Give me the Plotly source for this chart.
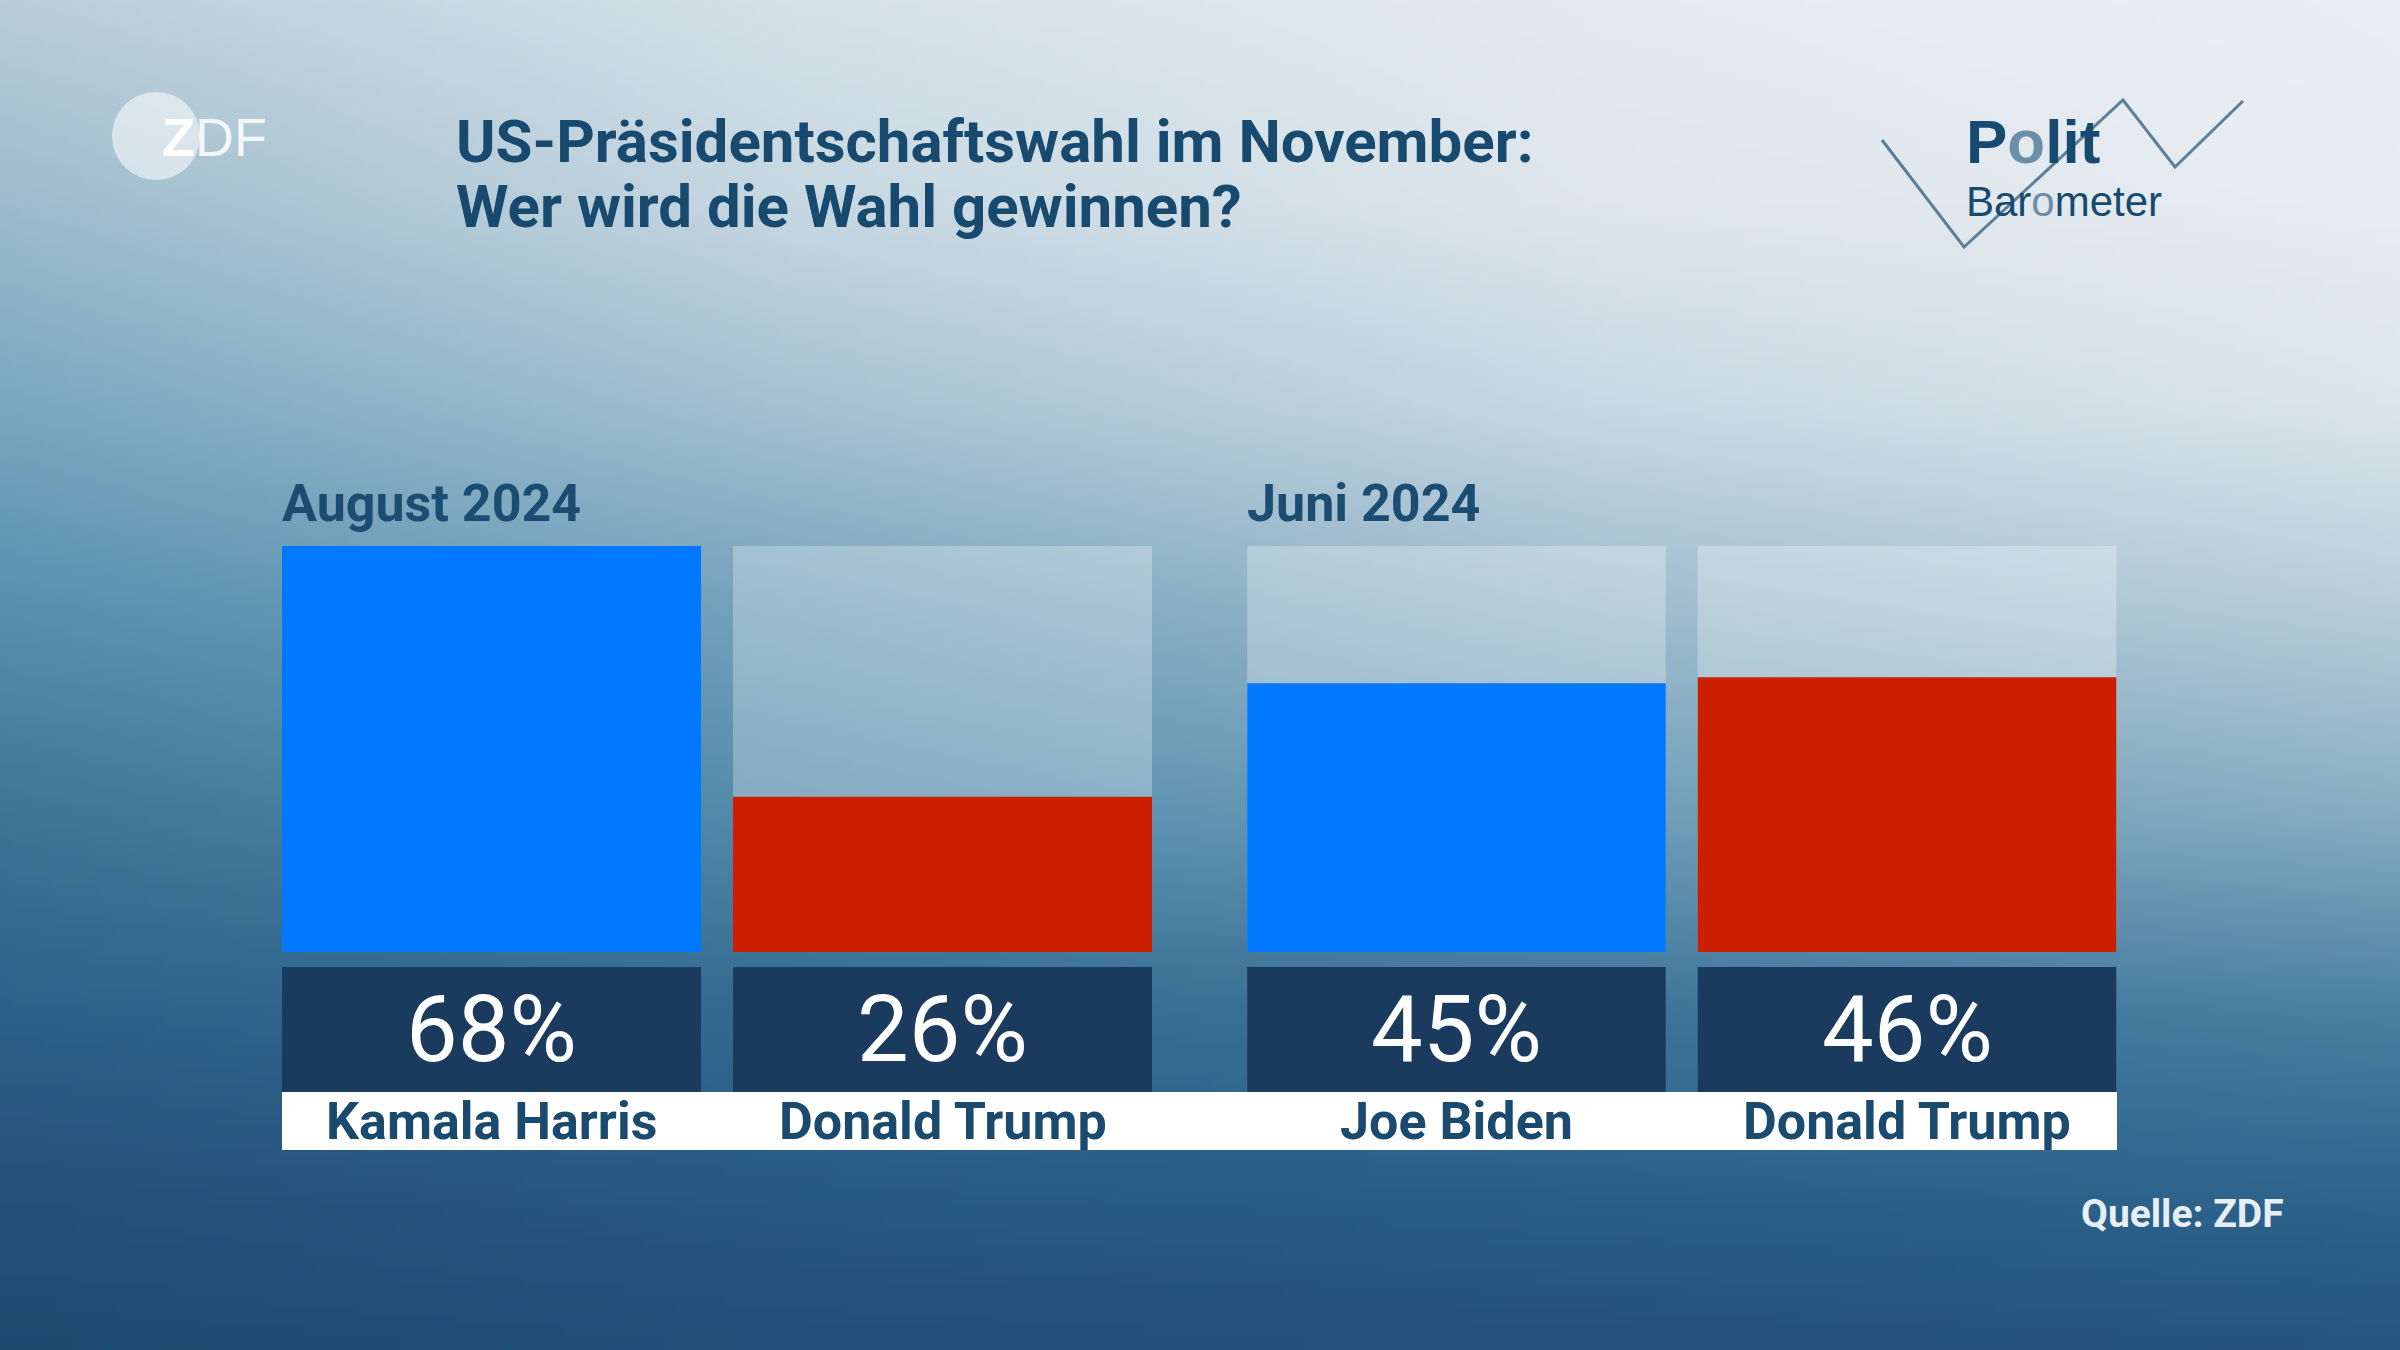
import base64
import struct
import zlib

import numpy as np
import plotly.graph_objects as go

# ---------------- data ----------------
group_titles = ["August 2024", "Juni 2024"]
aug_candidates = ["Kamala Harris", "Donald Trump"]
aug_values = [68, 26]
jun_candidates = ["Joe Biden", "Donald Trump"]
jun_values = [45, 46]
party_colors_aug = ["#0078ff", "#cc1e00"]
party_colors_jun = ["#0078ff", "#cc1e00"]
title_lines = ["US-Präsidentschaftswahl im November:", "Wer wird die Wahl gewinnen?"]
source_text = "Quelle: ZDF"

W, H = 2400, 1350
scale_max = max(aug_values + jun_values)


def px(x):
    return x / W


def py(y):
    return 1 - y / H


# ---------------- background gradient (style) ----------------
grid_u = [0.0, 0.33, 0.67, 1.0]
grid_v = [0.0, 0.15, 0.30, 0.45, 0.60, 0.75, 0.90, 1.0]
grid_hex = [
    ["#b9cdd9", "#d5e1e8", "#e3eaef", "#e9eef2"],
    ["#9cbbcc", "#c6d7e1", "#dee6ec", "#e6ecf0"],
    ["#79a7c0", "#a5c1d1", "#c8d8e2", "#dbe5eb"],
    ["#5690af", "#76a3bc", "#9ebccd", "#b8cdd9"],
    ["#3f7599", "#558cac", "#6f9fb9", "#88aec3"],
    ["#2d6189", "#346a90", "#3e7499", "#4a80a3"],
    ["#235079", "#265883", "#295d87", "#2c628b"],
    ["#1e4a72", "#214e78", "#23527c", "#255680"],
]


def hex2rgb(h):
    h = h.lstrip("#")
    return [int(h[i:i + 2], 16) for i in (0, 2, 4)]


anch = np.array([[hex2rgb(c) for c in row] for row in grid_hex], dtype=float)
iw, ih = 240, 135
us = np.linspace(0, 1, iw)
vs = np.linspace(0, 1, ih)
rows = np.zeros((len(grid_v), iw, 3))
for i in range(len(grid_v)):
    for c in range(3):
        rows[i, :, c] = np.interp(us, grid_u, anch[i, :, c])
img = np.zeros((ih, iw, 3))
for j in range(iw):
    for c in range(3):
        img[:, j, c] = np.interp(vs, grid_v, rows[:, j, c])
img = np.clip(np.round(img), 0, 255).astype(np.uint8)


def to_png(arr):
    h, w, _ = arr.shape
    raw = b"".join(b"\x00" + arr[y].tobytes() for y in range(h))

    def chunk(t, d):
        return struct.pack(">I", len(d)) + t + d + struct.pack(">I", zlib.crc32(t + d) & 0xFFFFFFFF)

    return (b"\x89PNG\r\n\x1a\n" + chunk(b"IHDR", struct.pack(">IIBBBBB", w, h, 8, 2, 0, 0, 0))
            + chunk(b"IDAT", zlib.compress(raw, 9)) + chunk(b"IEND", b""))


bg_uri = "data:image/png;base64," + base64.b64encode(to_png(img)).decode()

# ---------------- figure ----------------
fig = go.Figure()

groups = [
    ("x", "y", "y3", aug_candidates, aug_values, party_colors_aug),
    ("x2", "y2", "y4", jun_candidates, jun_values, party_colors_jun),
]

for xa, ya, yb, cands, vals, cols in groups:
    # light "full scale" bars
    fig.add_trace(go.Bar(x=cands, y=[scale_max] * len(cands), xaxis=xa, yaxis=ya,
                         marker=dict(color="rgba(255,255,255,0.28)", line=dict(width=0)),
                         hoverinfo="skip", showlegend=False))
    # value bars
    fig.add_trace(go.Bar(x=cands, y=vals, xaxis=xa, yaxis=ya,
                         marker=dict(color=cols, line=dict(width=0)),
                         showlegend=False))
    # dark value boxes
    fig.add_trace(go.Bar(x=cands, y=[1] * len(cands), xaxis=xa, yaxis=yb,
                         marker=dict(color="#1b3b5e", line=dict(width=0)),
                         hoverinfo="skip", showlegend=False))

ax_common = dict(visible=False, fixedrange=True)
# bar geometry: centers 491.5 / 942.5 and 1456.5 / 1907, slot 451 px
fig.update_layout(
    width=W, height=H,
    margin=dict(l=0, r=0, t=0, b=0),
    paper_bgcolor="#3f7599", plot_bgcolor="rgba(0,0,0,0)",
    barmode="overlay", bargap=32 / 451,
    xaxis=dict(domain=[px(266), px(1168)], anchor="y", **ax_common),
    xaxis2=dict(domain=[px(1231.25), px(2132.25)], anchor="y2", **ax_common),
    yaxis=dict(domain=[py(952), py(546)], range=[0, scale_max], anchor="x", **ax_common),
    yaxis2=dict(domain=[py(952), py(546)], range=[0, scale_max], anchor="x2", **ax_common),
    yaxis3=dict(domain=[py(1092), py(967)], range=[0, 1], anchor="x", **ax_common),
    yaxis4=dict(domain=[py(1092), py(967)], range=[0, 1], anchor="x2", **ax_common),
    images=[dict(source=bg_uri, xref="paper", yref="paper", x=0, y=1, sizex=1, sizey=1,
                 sizing="stretch", layer="below", xanchor="left", yanchor="top")],
    showlegend=False,
)

shapes = []
# white name band
shapes.append(dict(type="rect", xref="paper", yref="paper", x0=px(282), x1=px(2117),
                   y0=py(1150), y1=py(1092), fillcolor="white", line=dict(width=0), layer="above"))
# ZDF logo circle
shapes.append(dict(type="circle", xref="paper", yref="paper", x0=px(112), x1=px(200),
                   y0=py(180), y1=py(92), fillcolor="rgba(255,255,255,0.55)", line=dict(width=0),
                   layer="above"))
# Politbarometer zig-zag
zz = [(1882, 140), (1964, 247), (2123, 100), (2175, 167), (2243, 101)]
path = "M " + " L ".join(f"{px(x):.5f},{py(y):.5f}" for x, y in zz)
shapes.append(dict(type="path", xref="paper", yref="paper", path=path,
                   line=dict(color="#5d7f98", width=3), layer="above"))
fig.update_layout(shapes=shapes)

ann = []
# title
ann.append(dict(text=title_lines[0], xref="paper", yref="paper", x=px(454), y=py(141),
                xanchor="left", yanchor="middle", showarrow=False,
                font=dict(family="Roboto", size=60, color="#174a6e", weight="bold")))
ann.append(dict(text=title_lines[1], xref="paper", yref="paper", x=px(454), y=py(206),
                xanchor="left", yanchor="middle", showarrow=False,
                font=dict(family="Roboto", size=60, color="#174a6e", weight="bold")))
# group headers
for xpos, t in zip([282, 1247], group_titles):
    ann.append(dict(text=t, xref="paper", yref="paper", x=px(xpos - 2), y=py(503),
                    xanchor="left", yanchor="middle", showarrow=False,
                    font=dict(family="Roboto", size=52, color="#1b4d72", weight="bold")))
# value and name labels
for xa, ya, yb, cands, vals, cols in groups:
    for c, v in zip(cands, vals):
        ann.append(dict(text=f"{v}%", xref=xa, yref=yb, x=c, y=0.5,
                        xanchor="center", yanchor="middle", showarrow=False,
                        font=dict(family="Roboto", size=92, color="white")))
        ann.append(dict(text=c, xref=xa, yref="paper", x=c, y=py(1121),
                        xanchor="center", yanchor="middle", showarrow=False,
                        font=dict(family="Roboto", size=52, color="#1a4a6e", weight="bold")))
# source
ann.append(dict(text=source_text, xref="paper", yref="paper", x=px(2286), y=py(1214),
                xanchor="right", yanchor="middle", showarrow=False,
                font=dict(family="Roboto", size=39, color="#e8eff4", weight="bold")))
# ZDF logo text
ann.append(dict(text="<b>Z</b><span style='color:rgba(255,255,255,0.85)'>DF</span>",
                xref="paper", yref="paper", x=px(160), y=py(137),
                xanchor="left", yanchor="middle", showarrow=False,
                font=dict(family="Liberation Sans", size=54, color="white")))
# Politbarometer logo text (one block)
ann.append(dict(text=("<span style='font-size:62px;font-weight:bold'>P"
                      "<span style='color:#6d8ea7'>o</span>lit</span><br>"
                      "<span style='font-size:42px'>Bar<span style='color:#6d8ea7'>o</span>meter</span>"),
                xref="paper", yref="paper", x=px(1964), y=py(166),
                xanchor="left", yanchor="middle", align="left", showarrow=False,
                font=dict(family="Liberation Sans", size=41, color="#174a70")))
fig.update_layout(annotations=ann)

fig.write_html("out.html", config={"displayModeBar": False},
               post_script="document.body.style.margin='0';")
